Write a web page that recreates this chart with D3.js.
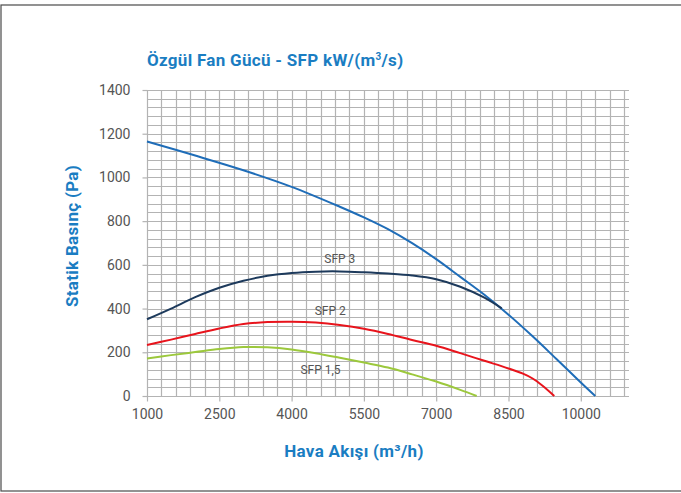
<!DOCTYPE html>
<html>
<head>
<meta charset="utf-8">
<script src="https://cdn.jsdelivr.net/npm/d3@7"></script>
<style>
  html, body { margin: 0; padding: 0; background: #fff; }
  svg { display: block; }
</style>
</head>
<body>
<svg id="chart" width="681" height="493"></svg>
<script>
// ---- Data ----
const xTicks = [1000, 2500, 4000, 5500, 7000, 8500, 10000];
const yTicks = [0, 200, 400, 600, 800, 1000, 1200, 1400];

const fanX = [1000, 2000, 3000, 4000, 5000, 5500, 6000, 6500, 7000, 7500, 8000, 8500, 9000, 9500, 10000, 10300];
const fanY = [1164, 1100, 1033, 957, 866, 817, 763, 699, 626, 545, 463, 372, 273, 168, 62, 0];

const sfp3X = [1000, 1500, 2000, 2500, 3000, 3500, 4000, 4500, 5000, 5500, 6000, 6500, 7000, 7500, 8000, 8360];
const sfp3Y = [351, 400, 452, 495, 527, 550, 563, 569, 570, 566, 560, 551, 534, 500, 450, 401];

const sfp2X = [1000, 1500, 2000, 2500, 3000, 3500, 4000, 4500, 5000, 5500, 6000, 6500, 7000, 7500, 8000, 8500, 8800, 9000, 9200, 9450];
const sfp2Y = [233, 258, 284, 309, 329, 338, 340, 336, 325, 308, 284, 256, 230, 196, 161, 126, 102, 80, 48, 0];

const sfp15X = [1000, 1500, 2000, 2500, 3000, 3500, 4000, 4500, 5000, 5500, 6000, 6500, 7000, 7500, 7840];
const sfp15Y = [172, 187, 201, 215, 224, 223, 213, 196, 175, 153, 130, 99, 66, 28, 0];

const seriesNames = ["fan", "SFP 3", "SFP 2", "SFP 1,5"];
const labelTexts = ["SFP 3", "SFP 2", "SFP 1,5"];
const labelX = [5000, 4800, 4600];
const labelY = [610, 372, 100];

// ---- Layout ----
const svg = d3.select("#chart");
const x = d3.scaleLinear().domain([1000, 11000]).range([147, 629]);
const y = d3.scaleLinear().domain([0, 1400]).range([396, 90]);

// outer border
svg.append("rect").attr("x", 1).attr("y", 5).attr("width", 700).attr("height", 486)
  .attr("fill", "none").attr("stroke", "#4a4a4a").attr("stroke-width", 1.2);

// grid
const gridColor = "#b3b3b3";
const g = svg.append("g");
const hLines = d3.range(0, 1401, 40);
g.selectAll("line.h").data(hLines).join("line")
  .attr("x1", x(1000)).attr("x2", x(11000))
  .attr("y1", d => Math.round(y(d)) + 0.5).attr("y2", d => Math.round(y(d)) + 0.5)
  .attr("stroke", gridColor).attr("stroke-width", 1.2);
const vLines = d3.range(1000, 10901, 300);
g.selectAll("line.v").data(vLines).join("line")
  .attr("x1", d => Math.round(x(d)) + 0.5).attr("x2", d => Math.round(x(d)) + 0.5)
  .attr("y1", y(1400)).attr("y2", y(0))
  .attr("stroke", gridColor).attr("stroke-width", 1.2);

// axes
const xAxis = d3.axisBottom(x).tickValues(xTicks).tickSize(5).tickPadding(8).tickFormat(d3.format("d"));
const yAxis = d3.axisLeft(y).tickValues(yTicks).tickSize(5).tickPadding(12).tickFormat(d3.format("d"));
const xa = svg.append("g").attr("transform", `translate(0,${Math.round(y(0)) + 0.5})`).call(xAxis);
const ya = svg.append("g").attr("transform", `translate(${Math.round(x(1000)) + 0.5},0)`).call(yAxis);
[xa, ya].forEach(a => {
  a.select(".domain").remove();
  a.selectAll(".tick line").attr("stroke", gridColor).attr("stroke-width", 1.2);
  a.selectAll(".tick text").attr("fill", "#555").attr("font-family", "Roboto, sans-serif").attr("font-size", 14);
});

// curves
const line = d3.line().x(d => x(d[0])).y(d => y(d[1])).curve(d3.curveCatmullRom.alpha(0.5));
const seriesData = [
  { xs: fanX, ys: fanY, color: "#1f6db8" },
  { xs: sfp3X, ys: sfp3Y, color: "#1d3a5c" },
  { xs: sfp2X, ys: sfp2Y, color: "#e8141c" },
  { xs: sfp15X, ys: sfp15Y, color: "#9cc83c" }
];
seriesData.forEach((s, i) => {
  svg.append("path")
    .datum(s.xs.map((v, k) => [v, s.ys[k]]))
    .attr("class", "series-" + seriesNames[i].replace(/[ ,]/g, ""))
    .attr("fill", "none").attr("stroke", s.color).attr("stroke-width", 2)
    .attr("d", line);
});

// curve labels
svg.selectAll("text.lbl").data(labelTexts).join("text")
  .attr("x", (d, i) => x(labelX[i])).attr("y", (d, i) => y(labelY[i]))
  .attr("text-anchor", "middle")
  .attr("font-family", "Roboto, sans-serif").attr("font-size", 12)
  .attr("fill", "#555").text(d => d);

// titles
const blue = "#1a7dc2";
const title = svg.append("text").attr("x", 147).attr("y", 66)
  .attr("font-family", "Roboto, sans-serif").attr("font-weight", "bold").attr("font-size", 17)
  .attr("letter-spacing", 0.3)
  .attr("fill", blue);
title.append("tspan").text("Özgül Fan Gücü - SFP kW/(m");
title.append("tspan").attr("dy", -6).attr("font-size", 10).text("3");
title.append("tspan").attr("dy", 6).text("/s)");

svg.append("text").attr("x", 354).attr("y", 457).attr("text-anchor", "middle")
  .attr("font-family", "Roboto, sans-serif").attr("font-weight", "bold").attr("font-size", 17)
  .attr("letter-spacing", 0.3)
  .attr("fill", blue).text("Hava Akışı (m³/h)");

svg.append("text").attr("transform", "translate(78,236) rotate(-90)").attr("text-anchor", "middle")
  .attr("font-family", "Roboto, sans-serif").attr("font-weight", "bold").attr("font-size", 17)
  .attr("letter-spacing", 0.3)
  .attr("fill", blue).text("Statik Basınç (Pa)");
</script>
</body>
</html>
